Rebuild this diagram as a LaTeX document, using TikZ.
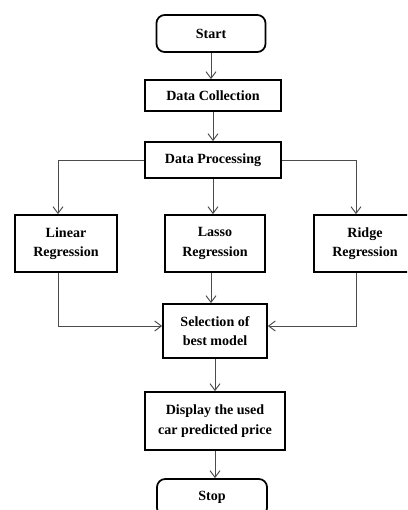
\documentclass[tikz,border=0pt]{standalone}
\usepackage{fontspec}
\setmainfont{Liberation Serif}
\usepackage{tikz}
\usetikzlibrary{arrows.meta, positioning, calc}
\tikzset{
  flowbox/.style={
    draw, line width=1.5pt, align=center,
    font=\fontsize{12}{16.5}\selectfont\bfseries, fill=white, inner sep=2pt
  },
  flowterm/.style={
    flowbox, rounded corners=7pt
  },
  flowarrow/.style={
    -{Straight Barb[length=2mm, width=3mm]}, line width=0.8pt, color=gray!60!black
  },
}

\begin{document}
\begin{tikzpicture}[x=0.03cm, y=-0.03cm]
  \clip (0,0) rectangle (407,510);
  \useasboundingbox (0,0) rectangle (407,510);

  % --- main column ---
  \node[flowterm, minimum width=3.27cm, minimum height=1.11cm] (start) at (211, 33.5) {Start};
  \node[flowbox, minimum width=4.08cm, minimum height=0.93cm] (collect) at (213, 95.5) {Data Collection};
  \node[flowbox, minimum width=4.08cm, minimum height=1.08cm] (process) at (213, 160) {Data Processing};

  % --- models ---
  \node[flowbox, minimum width=3.06cm, minimum height=1.71cm] (linear) at (66, 243.5) {Linear\\Regression};
  \node[flowbox, minimum width=3.0cm, minimum height=1.71cm] (lasso) at (215, 243.5) {Lasso\\Regression};
  \node[flowbox, minimum width=3.06cm, minimum height=1.71cm] (ridge) at (365, 243.5) {Ridge\\Regression};

  % --- result ---
  \node[flowbox, minimum width=3.12cm, minimum height=1.62cm] (select) at (215, 331) {Selection of\\best model};
  \node[flowbox, minimum width=4.2cm, minimum height=1.74cm] (display) at (215, 421) {Display the used\\car predicted price};
  \node[flowterm, minimum width=3.3cm, minimum height=1.11cm] (stop) at (212, 497.5) {Stop};

  % --- arrows ---
  \draw[flowarrow] (start.south) -- (start.south |- collect.north);
  \draw[flowarrow] (collect.south) -- (collect.south |- process.north);
  \draw[flowarrow] (process.west) -| ([xshift=-0.24cm]linear.north);
  \draw[flowarrow] (process.south) -- (process.south |- lasso.north);
  \draw[flowarrow] (process.east) -| ([xshift=-0.27cm]ridge.north);
  \draw[flowarrow] ([xshift=-0.24cm]linear.south) |- ([yshift=0.15cm]select.west);
  \draw[flowarrow] ([xshift=-0.12cm]lasso.south) -- ([xshift=-0.12cm]lasso.south |- select.north);
  \draw[flowarrow] ([xshift=-0.27cm]ridge.south) |- ([yshift=0.15cm]select.east);
  \draw[flowarrow] (select.south) -- (select.south |- display.north);
  \draw[flowarrow] (display.south) -- (display.south |- stop.north);

\end{tikzpicture}
\end{document}
